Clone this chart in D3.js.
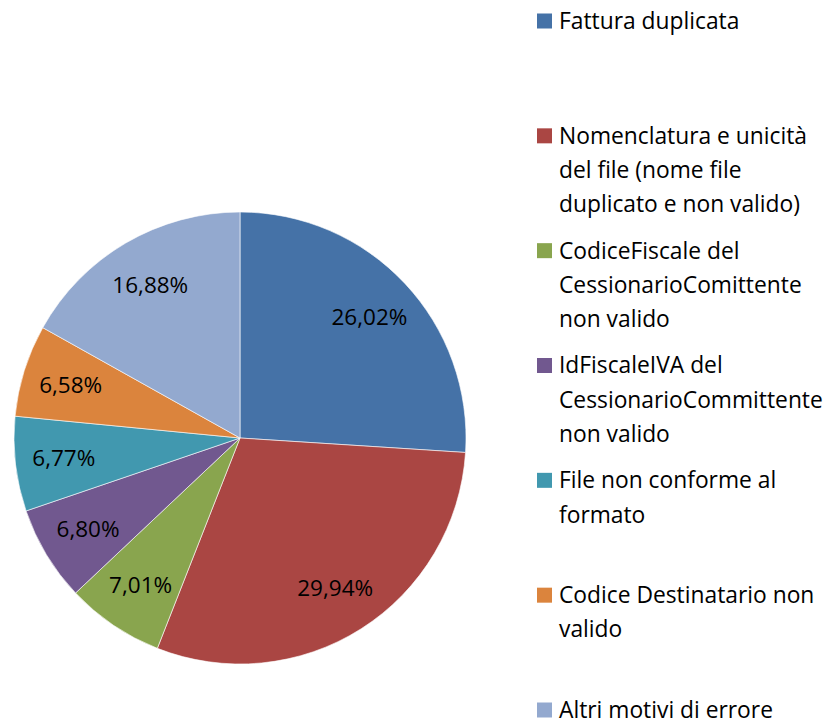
<!doctype html>
<html>
<head>
<meta charset="utf-8">
<title>Motivi di scarto</title>
<style>
  body { margin: 0; background: #fff; }
  svg text { font-family: "Open Sans", Lato, sans-serif; fill: #000; }
</style>
</head>
<body>
<svg width="830" height="718"></svg>
<script src="https://cdn.jsdelivr.net/npm/d3@7"></script>
<script>
var categories = [
  ["Fattura duplicata"],
  ["Nomenclatura e unicità", "del file (nome file", "duplicato e non valido)"],
  ["CodiceFiscale del", "CessionarioComittente", "non valido"],
  ["IdFiscaleIVA del", "CessionarioCommittente", "non valido"],
  ["File non conforme al", "formato"],
  ["Codice Destinatario non", "valido"],
  ["Altri motivi di errore"]
];
var values = [26.02, 29.94, 7.01, 6.80, 6.77, 6.58, 16.88];
var colors = ["#4572A7", "#AA4643", "#89A54E", "#71588F", "#4198AF", "#DB843D", "#93A9CF"];

var svg = d3.select("svg"),
    cx = 240, cy = 438, radius = 226,
    g = svg.append("g").attr("transform", "translate(" + cx + "," + cy + ")");

var pie = d3.pie().sort(null).value(function(d) { return d; });
var arc = d3.arc().innerRadius(0).outerRadius(radius);
var labelArc = d3.arc().innerRadius(radius * 0.785).outerRadius(radius * 0.785);
var fmt = function(v) { return d3.format(".2f")(v).replace(".", ",") + "%"; };

var arcs = pie(values);

g.selectAll("path")
  .data(arcs)
  .enter().append("path")
  .attr("d", arc)
  .attr("fill", function(d, i) { return colors[i]; })
  .attr("stroke", "#fff")
  .attr("stroke-width", 0.6);

g.selectAll("text.lbl")
  .data(arcs)
  .enter().append("text")
  .attr("class", "lbl")
  .attr("transform", function(d) { return "translate(" + labelArc.centroid(d) + ")"; })
  .attr("text-anchor", "middle")
  .attr("dy", "0.35em")
  .style("font-size", "22.5px")
  .text(function(d) { return fmt(d.data); });

// legend
var legendY = d3.scaleLinear().domain([0, categories.length - 1]).range([21, 710]);
var lineH = 34.3;

var item = svg.selectAll("g.legend")
  .data(categories)
  .enter().append("g")
  .attr("class", "legend")
  .attr("transform", function(d, i) { return "translate(537," + legendY(i) + ")"; });

item.append("rect")
  .attr("x", 0).attr("y", -7.5)
  .attr("width", 15).attr("height", 15)
  .attr("fill", function(d, i) { return colors[i]; });

item.each(function(lines) {
  var t = d3.select(this).append("text")
    .attr("x", 22)
    .style("font-size", "22.8px");
  lines.forEach(function(l, j) {
    t.append("tspan")
      .attr("x", 22)
      .attr("y", j * lineH)
      .attr("dy", "0.35em")
      .text(l);
  });
});
</script>
</body>
</html>
